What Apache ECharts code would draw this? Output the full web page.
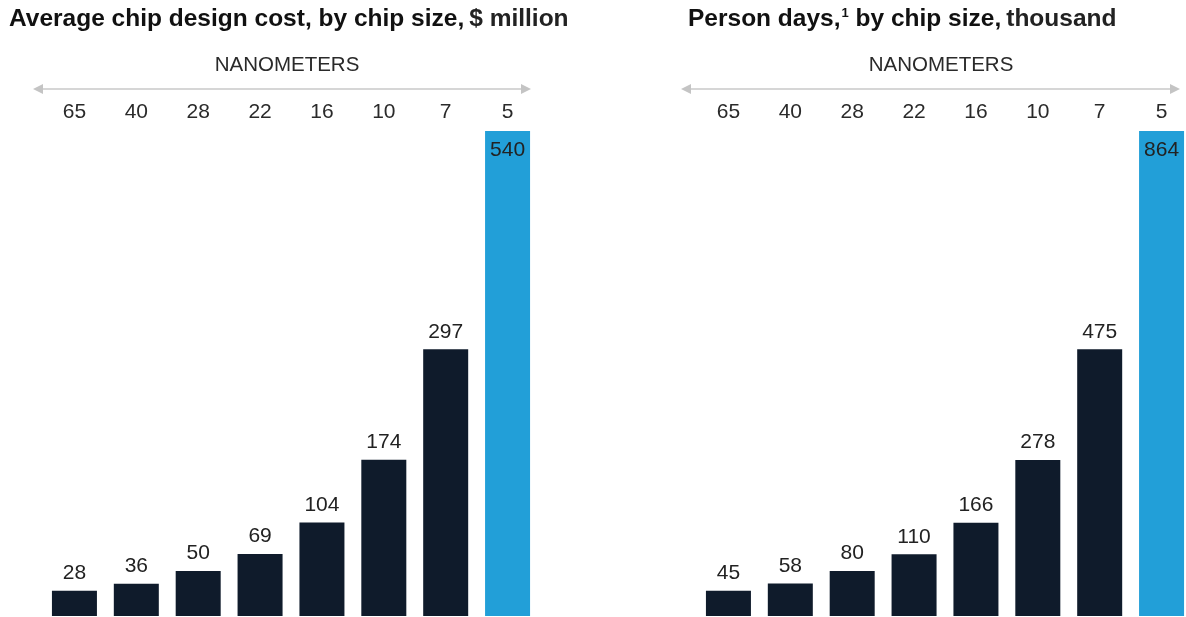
<!DOCTYPE html>
<html>
<head>
<meta charset="utf-8">
<script src="https://cdn.jsdelivr.net/npm/echarts@6/dist/echarts.min.js"></script>
<style>
  html, body { margin: 0; padding: 0; background: #fff; overflow: hidden; }
  #chart { width: 1200px; height: 617px; }
</style>
</head>
<body>
<div id="chart"></div>
<script>
// Process nodes, nanometers
const nodes = ['65', '40', '28', '22', '16', '10', '7', '5'];
// Average chip design cost, $ million
const designCost = [28, 36, 50, 69, 104, 174, 297, 540];
// Person days, thousand
const personDays = [45, 58, 80, 110, 166, 278, 475, 864];

const DARK = '#0f1b2b';
const BLUE = '#229fd8';
const FONT = '"Liberation Sans", Arial, sans-serif';

// Last node (5 nm) is highlighted in blue with its label inside the bar
function barData(values) {
  return values.map((v, i) => i === values.length - 1
    ? { value: v, itemStyle: { color: BLUE }, label: { position: 'insideTop', distance: 9 } }
    : v);
}

// Double-headed arrow above the node labels
function arrow(x1, x2, y) {
  const c = '#c4c4c4';
  return [
    { type: 'line', shape: { x1: x1 + 6, y1: y, x2: x2 - 6, y2: y }, style: { stroke: '#d6d6d6', lineWidth: 2 } },
    { type: 'polygon', shape: { points: [[x1, y], [x1 + 10, y - 5], [x1 + 10, y + 5]] }, style: { fill: c } },
    { type: 'polygon', shape: { points: [[x2, y], [x2 - 10, y - 5], [x2 - 10, y + 5]] }, style: { fill: c } }
  ];
}

function xAxisFor(gridIndex) {
  return {
    type: 'category', gridIndex, data: nodes, position: 'top',
    axisLine: { show: false }, axisTick: { show: false },
    axisLabel: { margin: 8, fontSize: 21, color: '#2a2a2a', fontFamily: FONT },
    name: 'NANOMETERS', nameLocation: 'middle', nameGap: 55,
    nameTextStyle: { fontSize: 20.5, color: '#2a2a2a', fontFamily: FONT, padding: [0, 8, 0, 0] }
  };
}

function seriesFor(idx, values) {
  return {
    type: 'bar', xAxisIndex: idx, yAxisIndex: idx, data: barData(values),
    barWidth: 45, itemStyle: { color: DARK },
    label: { show: true, position: 'top', distance: 7, fontSize: 21, color: '#222', fontFamily: FONT },
    silent: true, animation: false
  };
}

const chart = echarts.init(document.getElementById('chart'), null, { renderer: 'canvas' });
chart.setOption({
  animation: false,
  title: [
    {
      left: 4, top: 2,
      text: '{b|Average chip design cost, by chip size,} {r|$ million}',
      textStyle: { rich: {
        b: { fontSize: 24.5, fontWeight: 'bold', color: '#111', fontFamily: FONT },
        r: { fontSize: 24.5, color: '#222', fontFamily: FONT }
      } }
    },
    {
      left: 683, top: 2,
      text: '{b|Person days,}{s|1}{b| by chip size,} {r|thousand}',
      textStyle: { rich: {
        b: { fontSize: 24.5, fontWeight: 'bold', color: '#111', fontFamily: FONT },
        s: { fontSize: 13, fontWeight: 'bold', color: '#111', fontFamily: FONT, verticalAlign: 'top', padding: [0, 0, 10, 1] },
        r: { fontSize: 24.5, color: '#222', fontFamily: FONT }
      } }
    }
  ],
  grid: [
    { left: 43.5, width: 495, top: 131, bottom: 1 },
    { left: 697.5, width: 495, top: 131, bottom: 1 }
  ],
  xAxis: [xAxisFor(0), xAxisFor(1)],
  yAxis: [
    { type: 'value', gridIndex: 0, min: 0, max: 540, show: false, splitLine: { show: false } },
    { type: 'value', gridIndex: 1, min: 0, max: 864, show: false, splitLine: { show: false } }
  ],
  series: [seriesFor(0, designCost), seriesFor(1, personDays)],
  graphic: arrow(33, 531, 89).concat(arrow(681, 1180, 89))
});
</script>
</body>
</html>
